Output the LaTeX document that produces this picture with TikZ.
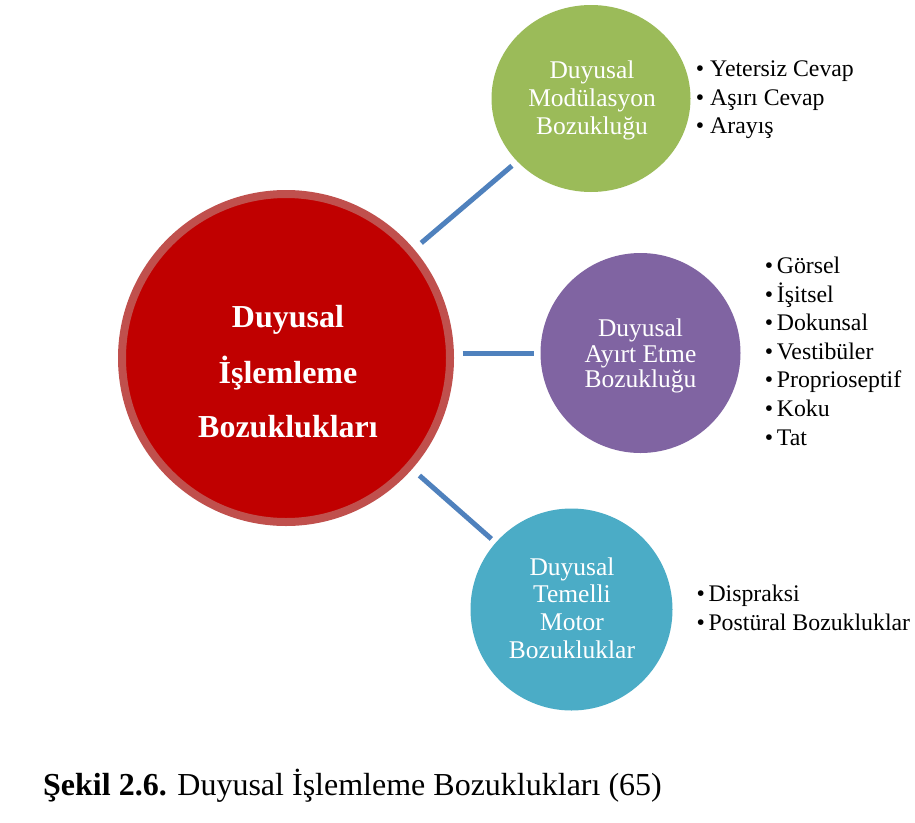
\documentclass[tikz,border=0pt]{standalone}
\usepackage{fontspec}
\setmainfont{Liberation Serif}
\usetikzlibrary{shapes.geometric}
\definecolor{mainred}{HTML}{C00000}
\definecolor{mainrim}{HTML}{C0504D}
\definecolor{modgreen}{HTML}{9BBB59}
\definecolor{discpurple}{HTML}{8064A2}
\definecolor{motorteal}{HTML}{4BACC6}
\definecolor{linkblue}{HTML}{4F81BD}
\begin{document}
\begin{tikzpicture}[x=1pt,y=-1pt,
  bubble/.style={circle, inner sep=0pt, outer sep=0pt},
  link/.style={draw=linkblue, line width=5pt},
  intext/.style={text=white, inner sep=0pt, anchor=base, font=\fontsize{25.5}{27}\selectfont},
  maintext/.style={text=white, inner sep=0pt, anchor=base, font=\bfseries\fontsize{32}{38}\selectfont},
  bul/.style={inner sep=0pt, anchor=base, font=\fontsize{23.8}{28}\selectfont},
  listitem/.style={inner sep=0pt, anchor=base west, font=\fontsize{23.8}{28}\selectfont}]
\useasboundingbox (0,0) rectangle (915,822);
\fill[white] (0,0) rectangle (915,822);

% circles
\node[bubble, minimum size=328pt, fill=mainred, draw=mainrim, line width=8pt] (main) at (286,358) {};
\node[ellipse, inner sep=0pt, outer sep=0pt, minimum width=199pt, minimum height=187pt, fill=modgreen] (mod) at (591,98.5) {};
\node[bubble, minimum size=200pt, fill=discpurple] (disc) at (640.5,353) {};
\node[bubble, minimum size=202pt, fill=motorteal] (motor) at (571.5,609.5) {};

% connectors
\draw[link, shorten <=13.6pt, shorten >=7pt] (main) -- (mod);
\draw[link, shorten <=12.7pt, shorten >=6.2pt] (main.east |- disc) -- (disc.west);
\draw[link, shorten <=13.8pt, shorten >=5.8pt] (main) -- (motor);

% main text
\node[maintext] (m1) at (288,327) {Duyusal};
\node[maintext] (m2) at (288,383) {İşlemleme};
\node[maintext] (m3) at (288,437) {Bozuklukları};

% green text
\node[intext] (g1) at (592,78.3) {Duyusal};
\node[intext] (g2) at (592,106.5) {Modülasyon};
\node[intext] (g3) at (592,134.5) {Bozukluğu};

% purple text
\node[intext] (p1) at (640.5,336.5) {Duyusal};
\node[intext] (p2) at (640.5,362) {Ayırt Etme};
\node[intext] (p3) at (640.5,387.5) {Bozukluğu};

% teal text
\node[intext] (t1) at (572,575) {Duyusal};
\node[intext] (t2) at (572,602.8) {Temelli};
\node[intext] (t3) at (572,630.6) {Motor};
\node[intext] (t4) at (572,658.4) {Bozukluklar};

% green list
\foreach \txt [count=\i] in {Yetersiz Cevap, Aşırı Cevap, Arayış}{
  \node[bul] (gb\i) at (700,76.7+28.3*\i-28.3) {•};
  \node[listitem] (gl\i) at (710,76.7+28.3*\i-28.3) {\txt};
}
% purple list
\foreach \txt [count=\i] in {Görsel, İşitsel, Dokunsal, Vestibüler, Proprioseptif, Koku, Tat}{
  \node[bul] (pb\i) at (769,273.5+28.6*\i-28.6) {•};
  \node[listitem] (pl\i) at (776.7,273.5+28.6*\i-28.6) {\txt};
}
% teal list
\foreach \txt [count=\i] in {Dispraksi, Postüral Bozukluklar}{
  \node[bul] (tb\i) at (700.7,601.7+28.3*\i-28.3) {•};
  \node[listitem] (tl\i) at (708.3,601.7+28.3*\i-28.3) {\txt};
}

% caption
\node[inner sep=0pt, anchor=base west, font=\fontsize{32}{38}\selectfont] (cap) at (43,795) {\textbf{Şekil 2.6.} Duyusal İşlemleme Bozuklukları (65)};
\end{tikzpicture}
\end{document}
